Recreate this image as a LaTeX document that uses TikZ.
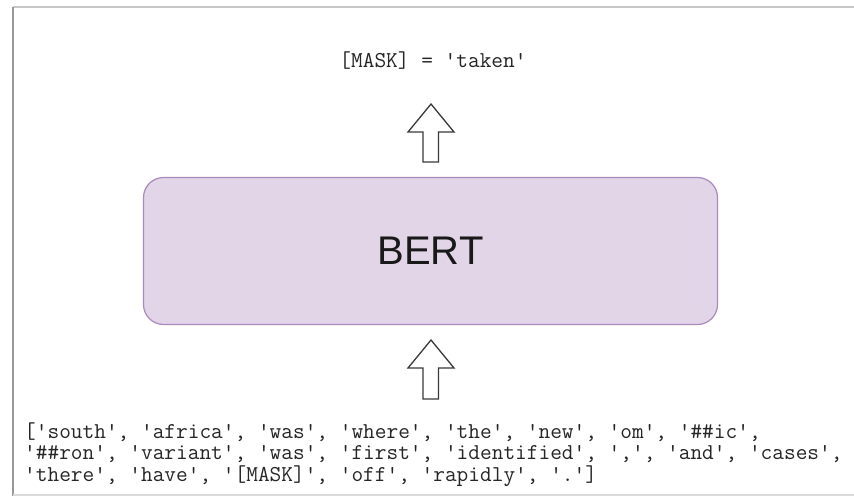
\documentclass[tikz,border=0pt]{standalone}
\usepackage{fontspec}
\setmainfont{Liberation Sans}
\begin{document}
\begin{tikzpicture}[x=1pt,y=-1pt,
  model/.style={draw=modelline, fill=modelfill, line width=1.2pt, rounded corners=20pt},
  uparrow/.style={draw=arrowline, fill=white, line width=1.3pt, line join=miter},
  code/.style={font=\ttfamily\fontsize{22.7}{21}\selectfont, text=black!85, inner sep=0pt}
]
\definecolor{modelfill}{HTML}{E1D5E7}
\definecolor{modelline}{HTML}{A98ABA}
\definecolor{arrowline}{HTML}{3A3A3A}
\useasboundingbox (0,0) rectangle (854,496);
\fill[white] (0,0) rectangle (854,496);

% page frame
\draw[black!22, line width=1.5pt] (13,7) -- (854,7);
\draw[black!40, line width=2pt] (13,7) -- (13,496);
\draw[black!15, line width=1.5pt] (13,495) -- (854,495);

% output label
\node[code, anchor=base] (out) at (433,67) {[MASK] = 'taken'};

% model block
\path[model] (143.5,177.5) rectangle (717.5,324.5);
\node[font=\fontsize{40}{40}\selectfont, text=black!90] (bert) at (430.5,251) {BERT};

% block arrows
\draw[uparrow] (431,104) -- (454,132) -- (438.5,132) -- (438.5,162)
  -- (423,162) -- (423,132) -- (408,132) -- cycle;
\draw[uparrow] (431,340) -- (454,368) -- (438.5,368) -- (438.5,399)
  -- (423,399) -- (423,368) -- (408,368) -- cycle;

% input tokens
\node[code, anchor=base west] (l1) at (24,438) {['south', 'africa', 'was', 'where', 'the', 'new', 'om', '\#\#ic',};
\node[code, anchor=base west] (l2) at (24,459.5) {'\#\#ron', 'variant', 'was', 'first', 'identified', ',', 'and', 'cases',};
\node[code, anchor=base west] (l3) at (24,481) {'there', 'have', '[MASK]', 'off', 'rapidly', '.']};
\end{tikzpicture}
\end{document}
